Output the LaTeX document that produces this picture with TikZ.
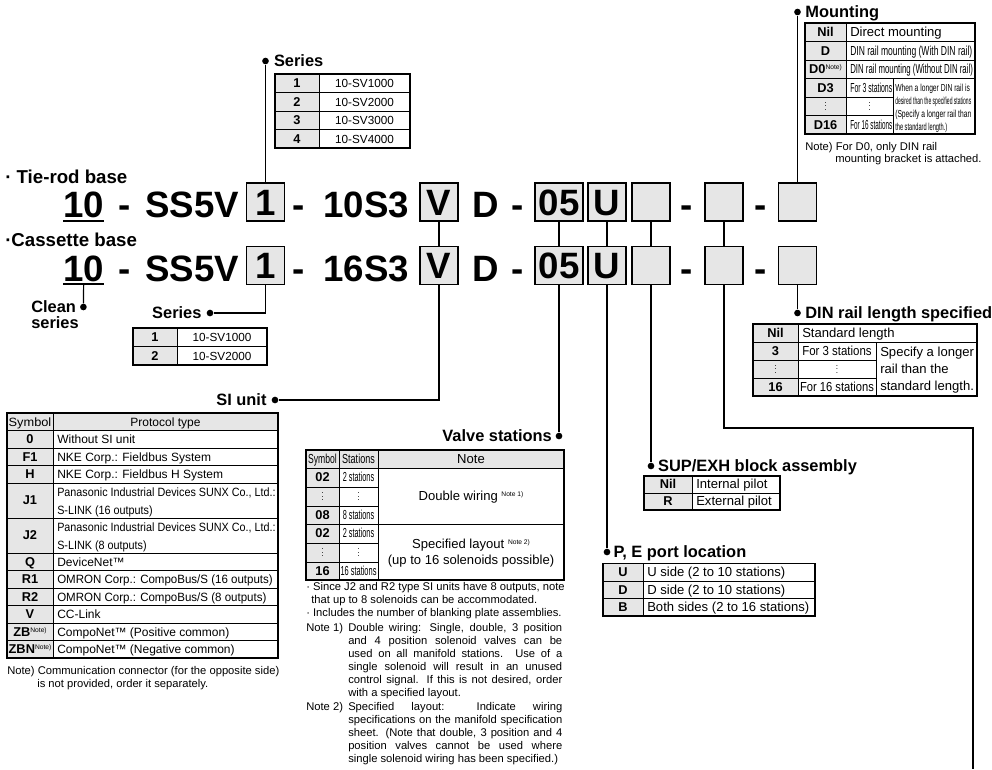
\documentclass[tikz,border=0pt]{standalone}
\usepackage{fontspec}
\setmainfont{Liberation Sans}
\usepackage{graphicx}
\usepackage{xcolor}
\usepackage{tikz}
\usetikzlibrary{positioning,calc}

\definecolor{cellgray}{RGB}{230,230,230}

% font sizes
\newcommand{\fbig}{\fontsize{27.5}{30}\selectfont\bfseries}
\newcommand{\fbase}{\fontsize{14}{16}\selectfont\bfseries}
\newcommand{\fhead}{\fontsize{12.3}{14}\selectfont\bfseries}
\newcommand{\ftab}{\fontsize{8.8}{10.5}\selectfont}
\newcommand{\ftabm}{\fontsize{9}{13}\selectfont}
\newcommand{\ftabl}{\fontsize{9.8}{12}\selectfont}
\newcommand{\fsym}{\fontsize{9.6}{11}\selectfont\bfseries}
\newcommand{\fmini}{\fontsize{7.6}{9.75}\selectfont}
\newcommand{\fnote}{\fontsize{8.4}{9.75}\selectfont}
\newcommand{\nsup}[1]{\raisebox{0.6ex}{\normalfont\fontsize{5}{6}\selectfont #1}}
\newcommand{\fitw}[2]{\resizebox{#1pt}{\height}{#2}}
\newcommand{\sq}[2][0.92]{\scalebox{#1}[1]{#2}}
\newcommand{\vdt}{\raisebox{0pt}[6pt][0pt]{\scalebox{0.7}{$\vdots$}}}

% table cells: [node opts]{fill}{x1}{y1}{x2}{y2}{name}{text}
\newcommand{\tcell}[8][]{%
  \filldraw[cellline, fill=#2] (#3,#4) rectangle (#5,#6);
  \node[celltxt, #1] (#7) at ($(#3,#4)!.5!(#5,#6)$) {#8};}
\newcommand{\lcell}[8][]{%
  \filldraw[cellline, fill=#2] (#3,#4) rectangle (#5,#6);
  \node[celltxt, anchor=west, #1] (#7) at ($(#3,#4)!.5!(#3,#6)+(4,0)$) {#8};}

\begin{document}
\begin{tikzpicture}[x=0.75pt, y=-0.75pt,
    codetxt/.style={font=\fbig, inner sep=0, anchor=base west},
    codebox/.style={draw, fill=cellgray, line width=1.1pt, minimum width=28.25pt,
                    minimum height=28.25pt, inner sep=0, font=\fbig,
                    text height=19.8pt, text depth=0pt},
    joint/.style={circle, fill, inner sep=0, minimum size=5pt},
    lbl/.style={font=\fhead, inner sep=0, text height=8.85pt, text depth=0pt},
    wire/.style={line width=0.9pt},
    uline/.style={line width=1.5pt},
    cellline/.style={line width=0.5pt},
    tabframe/.style={line width=0.9pt},
    celltxt/.style={inner sep=0, font=\ftab, text height=6.7pt, text depth=0pt},
    notetxt/.style={inner sep=0, font=\fnote, anchor=base west},
    notebody/.style={inner sep=0, font=\fnote, anchor=north west,
                     text width=160.5pt, align=justify}
  ]
  \useasboundingbox (0,0) rectangle (992,769);

  % Mounting
  \node[joint] (mountdot) at (797.5,12) {};
  \node[lbl, right=3pt of mountdot] (mountlbl) {Mounting};
  \tcell[font=\fsym]{cellgray}{805}{23}{846}{41.5}{mNil}{Nil}
  \lcell[font=\ftabl]{white}{846}{23}{975}{41.5}{mNilt}{Direct mounting}
  \tcell[font=\fsym]{cellgray}{805}{41.5}{846}{60}{mD}{D}
  \lcell[font=\ftabl]{white}{846}{41.5}{975}{60}{mDt}{\fitw{91.5}{DIN rail mounting (With DIN rail)}}
  \tcell[font=\fsym]{cellgray}{805}{60}{846}{78.5}{mDz}{D0\nsup{Note)}}
  \lcell[font=\ftabl]{white}{846}{60}{975}{78.5}{mDzt}{\fitw{92}{DIN rail mounting (Without DIN rail)}}
  \tcell[font=\fsym]{cellgray}{805}{78.5}{846}{97}{mDa}{D3}
  \lcell[font=\ftabl]{white}{846}{78.5}{893}{97}{mDat}{\fitw{31.5}{For 3 stations}}
  \tcell{cellgray}{805}{97}{846}{115.5}{mDots}{\vdt}
  \tcell{white}{846}{97}{893}{115.5}{mDotst}{\vdt}
  \tcell[font=\fsym]{cellgray}{805}{115.5}{846}{134}{mDb}{D16}
  \lcell[font=\ftabl]{white}{846}{115.5}{893}{134}{mDbt}{\fitw{31.5}{For 16 stations}}
  \lcell[font=\fmini, xshift=-1.5pt]{white}{893}{78.5}{975}{134}{mLong}{%
    \begin{tabular}{@{}l@{}}
      \fitw{56}{When a longer DIN rail is}\\
      \fitw{57}{desired than the specified stations}\\
      \fitw{57}{(Specify a longer rail than}\\
      \fitw{39}{the standard length.)}
    \end{tabular}}
  \draw[tabframe] (805,23) rectangle (975,134);
  \node[notetxt] (mNote1) at (805,150) {Note) For D0, only DIN rail};
  \node[notetxt] (mNote2) at (835,162) {mounting bracket is attached.};

  % Series (top)
  \node[joint] (serdot) at (265.5,61) {};
  \node[lbl, right=3.5pt of serdot] (serlbl) {Series};
  \tcell[font=\fsym]{cellgray}{275}{74}{319}{92.5}{sA}{1}
  \tcell{white}{319}{74}{410}{92.5}{sAt}{10-SV1000}
  \tcell[font=\fsym]{cellgray}{275}{92.5}{319}{111}{sB}{2}
  \tcell{white}{319}{92.5}{410}{111}{sBt}{10-SV2000}
  \tcell[font=\fsym]{cellgray}{275}{111}{319}{129.5}{sC}{3}
  \tcell{white}{319}{111}{410}{129.5}{sCt}{10-SV3000}
  \tcell[font=\fsym]{cellgray}{275}{129.5}{319}{148}{sD}{4}
  \tcell{white}{319}{129.5}{410}{148}{sDt}{10-SV4000}
  \draw[tabframe] (275,74) rectangle (410,148);

  % Tie-rod base
  \node[font=\fbase, inner sep=0, anchor=base west] (tierod) at (5,183) {· Tie-rod base};
  \node[codetxt] (t10a) at (63,217.5) {10};
  \node[codetxt, anchor=base] (m1a) at (125,217.5) {-};
  \node[codetxt] (ss5va) at (145,217.5) {SS5V};
  \node[codebox] (b1a) at (265.5,202) {1};
  \node[codetxt, anchor=base] (m2a) at (299,217.5) {-};
  \node[codetxt] (s10a) at (323,217.5) {10S3};
  \node[codebox] (bVa) at (439,202) {V};
  \node[codetxt] (da) at (472,217.5) {D};
  \node[codetxt, anchor=base] (m3a) at (518,217.5) {-};
  \node[codebox, minimum width=36pt] (b05a) at (559,202) {05};
  \node[codebox] (bUa) at (607,202) {U};
  \node[codebox] (bEa) at (651,202) {};
  \node[codetxt, anchor=base] (m4a) at (687,217.5) {-};
  \node[codebox] (bFa) at (724,202) {};
  \node[codetxt, anchor=base] (m5a) at (761,217.5) {-};
  \node[codebox] (bMa) at (797.5,202) {};
  \draw[uline] ([yshift=-2.6pt]t10a.base west) -- ([yshift=-2.6pt]t10a.base east);

  % Cassette base
  \node[font=\fbase, inner sep=0, anchor=base west] (cassette) at (5,246) {·Cassette base};
  \node[codetxt] (t10b) at (63,281) {10};
  \node[codetxt, anchor=base] (m1b) at (125,281) {-};
  \node[codetxt] (ss5vb) at (145,281) {SS5V};
  \node[codebox] (b1b) at (265.5,265.5) {1};
  \node[codetxt, anchor=base] (m2b) at (299,281) {-};
  \node[codetxt] (s16b) at (323,281) {16S3};
  \node[codebox] (bVb) at (439,265.5) {V};
  \node[codetxt] (db) at (472,281) {D};
  \node[codetxt, anchor=base] (m3b) at (518,281) {-};
  \node[codebox, minimum width=36pt] (b05b) at (559,265.5) {05};
  \node[codebox] (bUb) at (607,265.5) {U};
  \node[codebox] (bEb) at (651,265.5) {};
  \node[codetxt, anchor=base] (m4b) at (687,281) {-};
  \node[codebox] (bFb) at (724,265.5) {};
  \node[codetxt, anchor=base] (m5b) at (761,281) {-};
  \node[codebox] (bMb) at (797.5,265.5) {};
  \draw[uline] ([yshift=-2.6pt]t10b.base west) -- ([yshift=-2.6pt]t10b.base east);
  \coordinate (ul10b) at ([yshift=-2.6pt]t10b.base);

  % row links
  \draw[wire] (b1a) -- (serdot);
  \draw[wire] (bMa) -- (mountdot);
  \draw[wire] (bVa) -- (bVb);
  \draw[wire] (b05a) -- (b05b);
  \draw[wire] (bUa) -- (bUb);
  \draw[wire] (bEa) -- (bEb);
  \draw[wire] (bFa) -- (bFb);

  % Clean series
  \node[joint] (cleandot) at (83.4,307) {};
  \draw[wire] (ul10b) -- (cleandot);
  \node[font=\fontsize{12.3}{12}\selectfont\bfseries, inner sep=0, align=left,
        anchor=north west] (cleanlbl) at (31,300) {Clean\\series};

  % Series (cassette)
  \node[joint] (ser2dot) at (210,313) {};
  \node[lbl, left=3.5pt of ser2dot] (ser2lbl) {Series};
  \draw[wire] (b1b) |- (ser2dot);
  \tcell[font=\fsym]{cellgray}{133}{328}{177}{346.5}{tA}{1}
  \tcell{white}{177}{328}{267}{346.5}{tAt}{10-SV1000}
  \tcell[font=\fsym]{cellgray}{133}{346.5}{177}{365}{tB}{2}
  \tcell{white}{177}{346.5}{267}{365}{tBt}{10-SV2000}
  \draw[tabframe] (133,328) rectangle (267,365);

  % SI unit
  \node[joint] (sidot) at (275,400) {};
  \node[lbl, left=3.5pt of sidot] (silbl) {SI unit};
  \draw[wire] (bVb) |- (sidot);
  \tcell[font=\ftabm]{cellgray}{7}{413}{53}{430.5}{siHs}{\fitw{32}{Symbol}}
  \tcell[font=\ftabm]{cellgray}{53}{413}{278}{430.5}{siHp}{Protocol type}
  \tcell[font=\fsym]{cellgray}{7}{430.5}{53}{448}{siA}{0}
  \lcell[font=\ftabm]{white}{53}{430.5}{278}{448}{siAt}{Without SI unit}
  \tcell[font=\fsym]{cellgray}{7}{448}{53}{465.5}{siB}{F1}
  \lcell[font=\ftabm]{white}{53}{448}{278}{465.5}{siBt}{NKE Corp.: Fieldbus System}
  \tcell[font=\fsym]{cellgray}{7}{465.5}{53}{483}{siC}{H}
  \lcell[font=\ftabm]{white}{53}{465.5}{278}{483}{siCt}{NKE Corp.: Fieldbus H System}
  \tcell[font=\fsym]{cellgray}{7}{483}{53}{518}{siD}{J1}
  \lcell[font=\ftabm]{white}{53}{483}{278}{518}{siDt}{%
    \begin{tabular}{@{}l@{}}\sq[0.9]{Panasonic Industrial Devices SUNX Co., Ltd.:}\\
      \sq[0.9]{S-LINK (16 outputs)}\end{tabular}}
  \tcell[font=\fsym]{cellgray}{7}{518}{53}{553}{siE}{J2}
  \lcell[font=\ftabm]{white}{53}{518}{278}{553}{siEt}{%
    \begin{tabular}{@{}l@{}}\sq[0.9]{Panasonic Industrial Devices SUNX Co., Ltd.:}\\
      \sq[0.9]{S-LINK (8 outputs)}\end{tabular}}
  \tcell[font=\fsym]{cellgray}{7}{553}{53}{570.5}{siF}{Q}
  \lcell[font=\ftabm]{white}{53}{553}{278}{570.5}{siFt}{DeviceNet™}
  \tcell[font=\fsym]{cellgray}{7}{570.5}{53}{588}{siG}{R1}
  \lcell[font=\ftabm]{white}{53}{570.5}{278}{588}{siGt}{\sq[0.96]{OMRON Corp.: CompoBus/S (16 outputs)}}
  \tcell[font=\fsym]{cellgray}{7}{588}{53}{605.5}{siH}{R2}
  \lcell[font=\ftabm]{white}{53}{588}{278}{605.5}{siHt}{\sq[0.96]{OMRON Corp.: CompoBus/S (8 outputs)}}
  \tcell[font=\fsym]{cellgray}{7}{605.5}{53}{623}{siI}{V}
  \lcell[font=\ftabm]{white}{53}{605.5}{278}{623}{siIt}{CC-Link}
  \tcell[font=\fsym]{cellgray}{7}{623}{53}{640.5}{siJ}{ZB\nsup{Note)}}
  \lcell[font=\ftabm]{white}{53}{623}{278}{640.5}{siJt}{CompoNet™ (Positive common)}
  \tcell[font=\fsym]{cellgray}{7}{640.5}{53}{658}{siK}{\fitw{32}{ZBN\nsup{Note)}}}
  \lcell[font=\ftabm]{white}{53}{640.5}{278}{658}{siKt}{CompoNet™ (Negative common)}
  \draw[tabframe] (7,413) rectangle (278,658);
  \node[notetxt] (siNote1) at (7,674) {Note) Communication connector (for the opposite side)};
  \node[notetxt] (siNote2) at (37,687) {is not provided, order it separately.};

  % Valve stations
  \node[joint] (valvedot) at (559,436) {};
  \node[lbl, left=2.5pt of valvedot] (valvelbl) {Valve stations};
  \draw[wire] (b05b) -- (valvedot);
  \tcell[font=\ftabl]{cellgray}{306}{450}{339}{468}{vHs}{\fitw{21.5}{Symbol}}
  \tcell[font=\ftabl]{cellgray}{339}{450}{378}{468}{vHt}{\fitw{24.5}{Stations}}
  \tcell[font=\ftabl]{cellgray}{378}{450}{564}{468}{vHn}{Note}
  \tcell[font=\fsym]{cellgray}{306}{468}{339}{487}{vA}{02}
  \tcell[font=\ftabl]{white}{339}{468}{378}{487}{vAt}{\fitw{23.5}{2 stations}}
  \tcell{cellgray}{306}{487}{339}{506}{vB}{\vdt}
  \tcell{white}{339}{487}{378}{506}{vBt}{\vdt}
  \tcell[font=\fsym]{cellgray}{306}{506}{339}{524}{vC}{08}
  \tcell[font=\ftabl]{white}{339}{506}{378}{524}{vCt}{\fitw{23.5}{8 stations}}
  \tcell[font=\fsym]{cellgray}{306}{524}{339}{543}{vD}{02}
  \tcell[font=\ftabl]{white}{339}{524}{378}{543}{vDt}{\fitw{23.5}{2 stations}}
  \tcell{cellgray}{306}{543}{339}{562}{vE}{\vdt}
  \tcell{white}{339}{543}{378}{562}{vEt}{\vdt}
  \tcell[font=\fsym]{cellgray}{306}{562}{339}{580}{vF}{16}
  \tcell[font=\ftabl]{white}{339}{562}{378}{580}{vFt}{\fitw{27}{16 stations}}
  \tcell[font=\ftabl]{white}{378}{468}{564}{524}{vDbl}{Double wiring \nsup{Note 1)}}
  \tcell[font=\ftabl]{white}{378}{524}{564}{580}{vSpec}{%
    \begin{tabular}{@{}c@{}}Specified layout \nsup{Note 2)}\\(up to 16 solenoids possible)\end{tabular}}
  \draw[tabframe] (306,450) rectangle (564,580);
  \node[notetxt] (vNote1) at (306,590) {· Since J2 and R2 type SI units have 8 outputs, note};
  \node[notetxt] (vNote2) at (311,603) {that up to 8 solenoids can be accommodated.};
  \node[notetxt] (vNote3) at (306,616) {· Includes the number of blanking plate assemblies.};
  \node[notetxt] (vNote4) at (306,631) {Note 1)};
  \node[notebody] (vNote5) at (348,622.8) {Double wiring: Single, double, 3 position\linebreak
    and 4 position solenoid valves can be\linebreak
    used on all manifold stations. Use of a\linebreak
    single solenoid will result in an unused\linebreak
    control signal. If this is not desired, order\linebreak
    with a specified layout.};
  \node[notetxt] (vNote6) at (306,710) {Note 2)};
  \node[notebody] (vNote7) at (348,701.8) {Specified layout: Indicate wiring\linebreak
    specifications on the manifold specification\linebreak
    sheet. (Note that double, 3 position and 4\linebreak
    position valves cannot be used where\linebreak
    single solenoid wiring has been specified.)};

  % SUP/EXH block assembly
  \node[joint] (supdot) at (651,466) {};
  \node[lbl, right=2.5pt of supdot] (suplbl) {SUP/EXH block assembly};
  \draw[wire] (bEb) -- (supdot);
  \tcell[font=\fsym]{cellgray}{644}{476}{692}{493}{supA}{Nil}
  \lcell[font=\ftabl]{white}{692}{476}{780}{493}{supAt}{Internal pilot}
  \tcell[font=\fsym]{cellgray}{644}{493}{692}{510}{supB}{R}
  \lcell[font=\ftabl]{white}{692}{493}{780}{510}{supBt}{External pilot}
  \draw[tabframe] (644,476) rectangle (780,510);

  % P, E port location
  \node[joint] (pedot) at (607,552) {};
  \node[lbl, right=2pt of pedot] (pelbl) {P, E port location};
  \draw[wire] (bUb) -- (pedot);
  \tcell[font=\fsym]{cellgray}{603}{563.5}{643}{581}{peA}{U}
  \lcell[font=\ftabl]{white}{643}{563.5}{815}{581}{peAt}{U side (2 to 10 stations)}
  \tcell[font=\fsym]{cellgray}{603}{581}{643}{598.5}{peB}{D}
  \lcell[font=\ftabl]{white}{643}{581}{815}{598.5}{peBt}{D side (2 to 10 stations)}
  \tcell[font=\fsym]{cellgray}{603}{598.5}{643}{616}{peC}{B}
  \lcell[font=\ftabl]{white}{643}{598.5}{815}{616}{peCt}{Both sides (2 to 16 stations)}
  \draw[tabframe] (603,563.5) rectangle (815,616);

  % DIN rail length specified
  \node[joint] (dindot) at (797.5,313) {};
  \node[lbl, right=3pt of dindot] (dinlbl) {DIN rail length specified};
  \draw[wire] (bMb) -- (dindot);
  \tcell[font=\fsym]{cellgray}{753}{324}{798}{342}{dA}{Nil}
  \lcell[font=\ftabl]{white}{798}{324}{977}{342}{dAt}{Standard length}
  \tcell[font=\fsym]{cellgray}{753}{342}{798}{360}{dB}{3}
  \tcell[font=\ftabl]{white}{798}{342}{876}{360}{dBt}{\fitw{52}{For 3 stations}}
  \tcell{cellgray}{753}{360}{798}{378}{dC}{\vdt}
  \tcell{white}{798}{360}{876}{378}{dCt}{\vdt}
  \tcell[font=\fsym]{cellgray}{753}{378}{798}{396}{dD}{16}
  \tcell[font=\ftabl]{white}{798}{378}{876}{396}{dDt}{\fitw{55.5}{For 16 stations}}
  \lcell[font=\fontsize{9.8}{12.75}\selectfont]{white}{876}{342}{977}{396}{dLong}{%
    \begin{tabular}{@{}l@{}}Specify a longer\\rail than the\\standard length.\end{tabular}}
  \draw[tabframe] (753,324) rectangle (977,396);

  % line to next page
  \coordinate (railturn) at (973,428);
  \coordinate (railend) at (973,769);
  \draw[wire] (bFb) |- (railturn) -- (railend);
\end{tikzpicture}
\end{document}
